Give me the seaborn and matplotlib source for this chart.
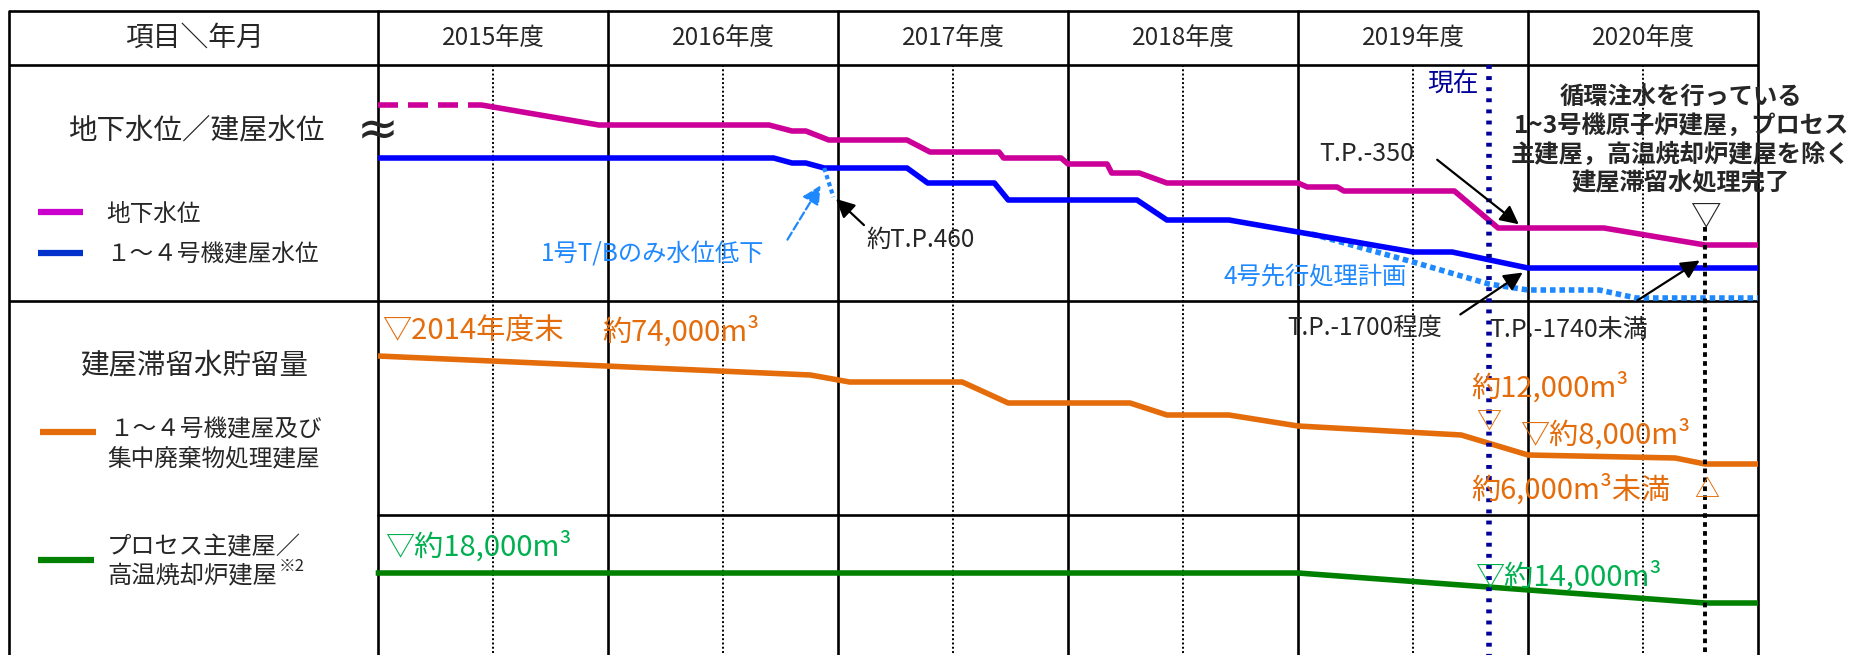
import matplotlib
matplotlib.use("Agg")
import matplotlib.pyplot as plt
import seaborn as sns

# %% data  (x = fiscal year as decimal, y = schematic level inside each row)

years = [2015, 2016, 2017, 2018, 2019, 2020]
year_labels = [f"{y}年度" for y in years]

# ground water level (magenta); first part dashed
gw_dash_x = [2015.00, 2015.45]
gw_dash_y = [196, 196]
gw_x = [2015.45, 2015.96, 2016.70, 2016.80, 2016.86, 2016.96, 2017.30, 2017.40,
        2017.70, 2017.72, 2017.97, 2018.00, 2018.17, 2018.19, 2018.31, 2018.43,
        2019.00, 2019.04, 2019.17, 2019.20, 2019.68, 2019.87, 2020.33, 2020.77, 2021.00]
gw_y = [196, 176, 176, 170, 170, 161, 161, 149,
        149, 143, 143, 137, 137, 128, 128, 118,
        118, 114, 114, 110, 110, 73, 73, 56, 56]

# unit 1-4 building water level (blue)
bw_x = [2015.00, 2016.72, 2016.80, 2016.86, 2016.94, 2017.30, 2017.39, 2017.68,
        2017.74, 2018.30, 2018.43, 2018.70, 2019.50, 2019.67, 2020.00, 2021.00]
bw_y = [143, 143, 138, 138, 133, 133, 118, 118,
        101, 101, 81, 81, 49, 49, 33, 33]

# unit 4 advance treatment plan (dotted light blue)
plan_x = [2019.06, 2019.50, 2019.83, 2020.00, 2020.31, 2020.47, 2021.00]
plan_y = [67, 39, 17, 11, 11, 3, 3]

# unit 1 T/B only drop
tb_x = [2016.94, 2016.98]
tb_y = [133, 104]

# stored water, unit 1-4 + central waste bldg (orange)
vol_x = [2015.00, 2016.88, 2017.05, 2017.54, 2017.74, 2018.27, 2018.43, 2018.70,
         2019.00, 2019.71, 2020.00, 2020.64, 2020.77, 2021.00]
vol_y = [159, 140, 133, 133, 112, 112, 100, 100,
         89, 80, 60, 57, 51, 51]

# process main bldg / HTI bldg (green)
pm_x = [2014.99, 2019.00, 2020.77, 2021.00]
pm_y = [82, 82, 52, 52]

now_year = 2019.83
goal_year = 2020.77

# %% layout helpers (pixels)

W, H = 1854, 655
X0, X1 = 378, 1758
T_TOP, T_HEAD, T_ROW1, T_ROW2 = 11, 65, 301, 515


def fx(year):
    return X0 + (year - 2015) * (X1 - X0) / 6


MAG = "#CC0099"
BLUE = "#0000FF"
LBLUE = "#1E88FF"
ORANGE = "#E46C0A"
GREEN = "#008000"
GTEXT = "#00B050"
NAVY = "#000099"

sns.set_theme(style="white")
plt.rcParams['font.family'] = ['Noto Sans CJK JP', 'DejaVu Sans']

fig = plt.figure(figsize=(W / 100, H / 100), dpi=100)
fig.patch.set_facecolor("white")

bg = fig.add_axes([0, 0, 1, 1])
bg.set_xlim(0, W)
bg.set_ylim(H, 0)
bg.axis("off")

# table grid
lw_t = 1.9
for y in [T_TOP, T_HEAD, T_ROW1]:
    bg.plot([9.5, X1], [y, y], color="black", lw=lw_t, solid_capstyle="butt")
bg.plot([X0, X1], [T_ROW2, T_ROW2], color="black", lw=lw_t)
bg.plot([9.5, 9.5], [T_TOP, H], color="black", lw=lw_t)
for yr in years + [2021]:
    bg.plot([fx(yr), fx(yr)], [T_TOP, H], color="black", lw=lw_t)
for yr in years:
    bg.plot([fx(yr + 0.5), fx(yr + 0.5)], [T_HEAD, H], color="black", lw=1.4,
            linestyle=(0, (1, 1.2)))

# legend swatches
bg.plot([38, 83], [212, 212], color="#CC00CC", lw=4.5, solid_capstyle="butt")
bg.plot([38, 83], [253, 253], color="#0033CC", lw=4.5, solid_capstyle="butt")
bg.plot([40, 96], [432, 432], color=ORANGE, lw=4.5, solid_capstyle="butt")
bg.plot([38, 94], [560, 560], color=GREEN, lw=4.5, solid_capstyle="butt")


def row_axes(top, bottom):
    ax = fig.add_axes([X0 / W, 1 - bottom / H, (X1 - X0) / W, (bottom - top) / H])
    ax.set_xlim(2015, 2021)
    ax.set_ylim(0, bottom - top)
    ax.axis("off")
    ax.patch.set_alpha(0)
    return ax


line_kw = dict(estimator=None, sort=False, lw=4, clip_on=False,
               solid_capstyle="butt", legend=False)

ax1 = row_axes(T_HEAD, T_ROW1)
sns.lineplot(x=gw_dash_x, y=gw_dash_y, ax=ax1, color=MAG, estimator=None, sort=False,
             lw=4, linestyle=(0, (3.6, 1.8)), clip_on=False, legend=False)
sns.lineplot(x=gw_x, y=gw_y, ax=ax1, color=MAG, **line_kw)
sns.lineplot(x=plan_x, y=plan_y, ax=ax1, color=LBLUE, estimator=None, sort=False,
             lw=4, linestyle=(0, (1, 0.7)), clip_on=False, legend=False)
sns.lineplot(x=bw_x, y=bw_y, ax=ax1, color=BLUE, **line_kw)
sns.lineplot(x=tb_x, y=tb_y, ax=ax1, color=LBLUE, estimator=None, sort=False,
             lw=3, linestyle=(0, (1, 0.8)), clip_on=False, legend=False)

ax2 = row_axes(T_ROW1, T_ROW2)
sns.lineplot(x=vol_x, y=vol_y, ax=ax2, color=ORANGE, **line_kw)

ax3 = row_axes(T_ROW2, H)
sns.lineplot(x=pm_x, y=pm_y, ax=ax3, color=GREEN, **line_kw)

# overlay for markers and texts
top = fig.add_axes([0, 0, 1, 1])
top.set_xlim(0, W)
top.set_ylim(H, 0)
top.axis("off")
top.patch.set_alpha(0)

top.plot([fx(now_year)] * 2, [T_HEAD, H], color=NAVY, lw=4, linestyle=(0, (0.7, 1.3)))
top.plot([fx(goal_year)] * 2, [227, H], color="black", lw=2.8, linestyle=(0, (1.2, 1.1)))

# header
top.text(194, 38, "項目＼年月", fontsize=20, ha="center", va="center")
for yr, lab in zip(years, year_labels):
    top.text(fx(yr + 0.5), 38, lab, fontsize=17.5, ha="center", va="center")

# left column
top.text(196, 130, "地下水位／建屋水位", fontsize=20.5, ha="center", va="center")
top.text(378, 131, "≈", fontsize=36, ha="center", va="center",
         family=["DejaVu Sans"])
top.text(106, 214, "地下水位", fontsize=17, va="center")
top.text(106, 255, "１～４号機建屋水位", fontsize=17, va="center")
top.text(194, 365, "建屋滞留水貯留量", fontsize=20.5, ha="center", va="center")
top.text(109, 430, "１～４号機建屋及び", fontsize=17, va="center")
top.text(107, 459, "集中廃棄物処理建屋", fontsize=17, va="center")
top.text(107, 547, "プロセス主建屋／", fontsize=17.5, va="center")
t_hti = top.text(107, 576, "高温焼却炉建屋", fontsize=17.5, va="center")
top.annotate("※2", xy=(1.0, 0.55), xycoords=t_hti, fontsize=12, va="bottom",
             xytext=(1, 0), textcoords="offset points")

# chart notes
NS = 21
top.text(382, 332, "▽2014年度末", fontsize=NS, color=ORANGE, va="center")
top.text(602, 332, "約74,000m³", fontsize=NS, color=ORANGE, va="center")
top.text(385, 547, "▽約18,000m³", fontsize=NS, color=GTEXT, va="center")
top.text(1471, 388, "約12,000m³", fontsize=NS, color=ORANGE, va="center")
top.text(fx(now_year), 423, "▽", fontsize=18, color=ORANGE, ha="center", va="center")
top.text(1520, 435, "▽約8,000m³", fontsize=NS, color=ORANGE, va="center")
top.text(1471, 490, "約6,000m³未満", fontsize=NS, color=ORANGE, va="center")
top.text(fx(goal_year) + 2, 490, "△", fontsize=18, color=ORANGE, ha="center", va="center")
top.text(1475, 577, "▽約14,000m³", fontsize=NS, color=GTEXT, va="center")

top.text(1287, 328, "T.P.-1700程度", fontsize=17.5, va="center")
top.text(1489, 330, "T.P.-1740未満", fontsize=18, va="center")
top.text(1319, 154, "T.P.-350", fontsize=18, va="center")
top.text(866, 240, "約T.P.460", fontsize=17.5, va="center")
top.text(1224, 277, "4号先行処理計画", fontsize=17.5, color=LBLUE, va="center")
top.text(541, 255, "1号T/Bのみ水位低下", fontsize=17.5, color=LBLUE, va="center")
top.text(1427, 85, "現在", fontsize=18.5, color=NAVY, va="center")

note = ["循環注水を行っている", "1~3号機原子炉建屋，プロセス",
        "主建屋，高温焼却炉建屋を除く", "建屋滞留水処理完了"]
for i, s in enumerate(note):
    top.text(1681, 98 + i * 28.5, s, fontsize=17.5, fontweight="bold",
             ha="center", va="center")
top.text(fx(goal_year), 217, "▽", fontsize=22, ha="center", va="center")

# arrows
akw = dict(arrowstyle="-|>", color="black", lw=1.6, mutation_scale=28)
top.annotate("", xy=(1521, 226), xytext=(1435, 158), arrowprops=akw)
top.annotate("", xy=(1525, 271), xytext=(1458, 316), arrowprops=akw)
top.annotate("", xy=(1702, 259), xytext=(1635, 302), arrowprops=akw)
top.annotate("", xy=(834, 197), xytext=(866, 227), arrowprops=akw)
top.annotate("", xy=(822, 183), xytext=(786, 242),
             arrowprops=dict(arrowstyle="-|>", color=LBLUE, lw=1.6,
                             linestyle="--", mutation_scale=28))

fig.savefig("out.png", dpi=100)
